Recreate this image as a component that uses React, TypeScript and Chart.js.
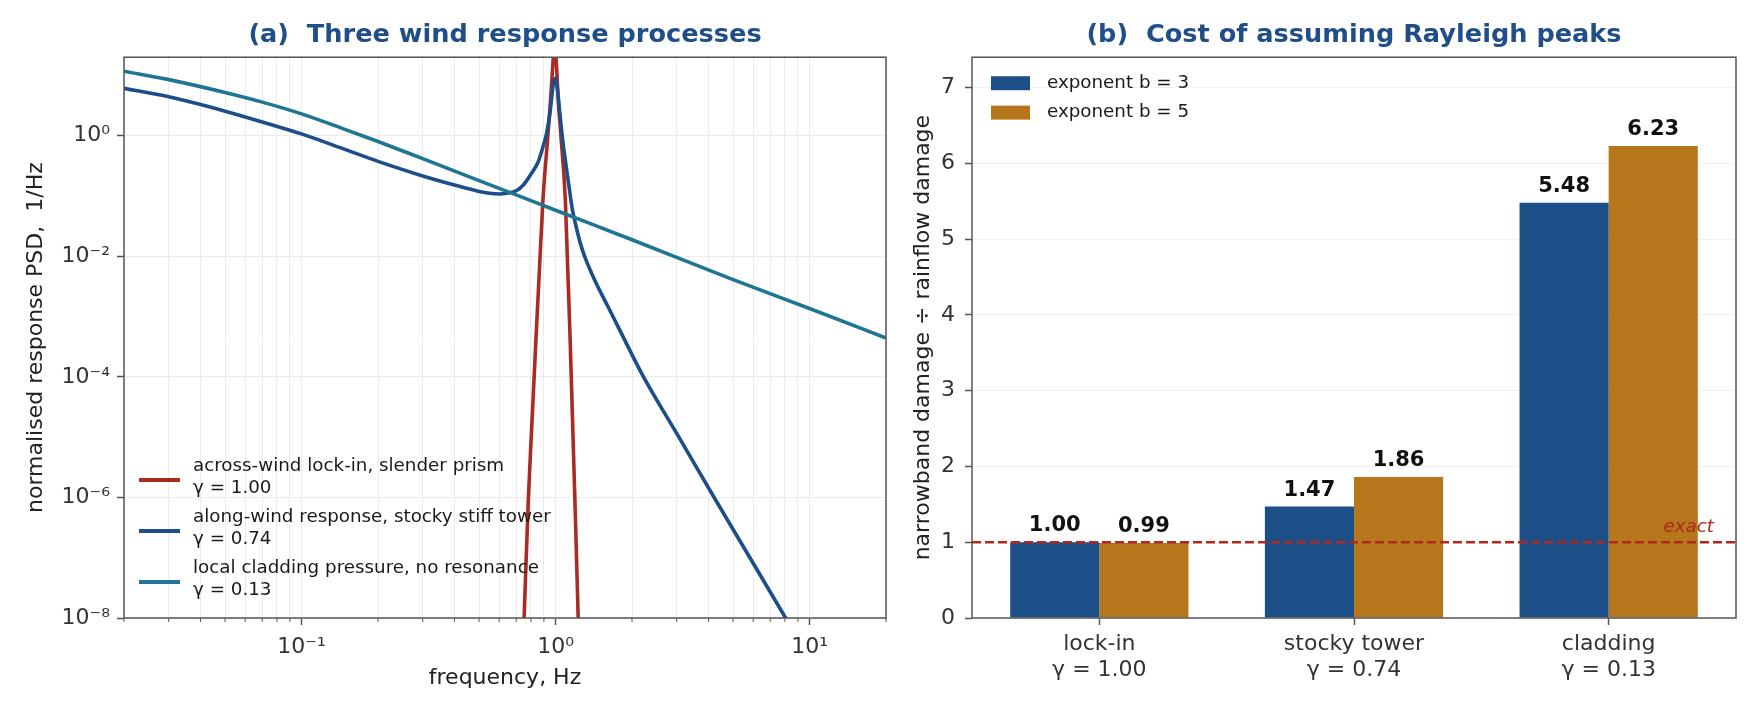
import { useEffect, useRef } from "react"
import { Chart, registerables } from "chart.js"

Chart.register(...registerables)
Chart.defaults.font.family = "'DejaVu Sans', sans-serif"

// ---- panel (a): normalised response PSD
const lockInFreq = [0.738, 0.752, 0.782, 0.81, 0.839, 0.865, 0.892, 0.933, 0.956, 0.98, 0.993, 1.005, 1.025, 1.05, 1.093, 1.115, 1.14, 1.165, 1.191, 1.228, 1.24]
const lockInPsd = [1e-9, 1e-8, 1e-6, 2.3e-5, 5e-4, 6.5e-3, 0.085, 1.0, 3.9, 20, 60, 20, 3.9, 1.0, 0.085, 7.5e-3, 5e-4, 2.3e-5, 1e-6, 1e-8, 1.5e-9]

const alongFreq = [0.02, 0.03, 0.05, 0.075, 0.1, 0.15, 0.2, 0.3, 0.4, 0.5, 0.55, 0.6, 0.65, 0.7, 0.75, 0.8, 0.855, 0.9, 0.922, 0.951, 0.965, 0.98, 0.995, 1.008, 1.018, 1.04, 1.062, 1.088, 1.121, 1.163, 1.19, 1.22, 1.26, 1.304, 1.427, 1.61, 1.788, 2.22, 3.0, 4.28, 6.0, 8.05, 9.0]
const alongPsd = [6.1, 4.4, 2.55, 1.55, 1.07, 0.58, 0.375, 0.215, 0.152, 0.119, 0.111, 0.108, 0.112, 0.122, 0.155, 0.23, 0.37, 0.74, 1.09, 2.4, 4.2, 7.2, 8.9, 7.5, 5.7, 2.33, 1.0, 0.446, 0.183, 0.062, 0.039, 0.025, 0.015, 9.8e-3, 4e-3, 1.45e-3, 6e-4, 1e-4, 1.15e-5, 8.9e-7, 8.1e-8, 1e-8, 4.5e-9]

const claddingFreq = [0.02, 0.03, 0.05, 0.07, 0.1, 0.15, 0.2, 0.3, 0.5, 0.7, 1.0, 2.0, 5.0, 10, 20]
const claddingPsd = [11.7, 8.5, 5.2, 3.6, 2.3, 1.25, 0.8, 0.415, 0.18, 0.104, 0.058, 0.0188, 4.1e-3, 1.36e-3, 4.4e-4]

const psdNames = ["across-wind lock-in, slender prism", "along-wind response, stocky stiff tower", "local cladding pressure, no resonance"]
const psdGammas = ["γ = 1.00", "γ = 0.74", "γ = 0.13"]
const psdColors = ["#aa2b22", "#1d4e89", "#1f7594"]

const freqTicks = [0.02, 0.03, 0.04, 0.05, 0.06, 0.07, 0.08, 0.09, 0.1, 0.2, 0.3, 0.4, 0.5, 0.6, 0.7, 0.8, 0.9, 1, 2, 3, 4, 5, 6, 7, 8, 9, 10, 20]
const freqMajor = [0.1, 1, 10]
const freqMajorLabels = ["10⁻¹", "10⁰", "10¹"]
const psdTicks = [1e-8, 1e-6, 1e-4, 1e-2, 1]
const psdTickLabels = ["10⁻⁸", "10⁻⁶", "10⁻⁴", "10⁻²", "10⁰"]

// ---- panel (b): damage ratio
const caseLabels = [["lock-in", "γ = 1.00"], ["stocky tower", "γ = 0.74"], ["cladding", "γ = 0.13"]]
const ratioB3 = [1.0, 1.47, 5.48]
const ratioB5 = [0.99, 1.86, 6.23]
const exponentNames = ["exponent b = 3", "exponent b = 5"]
const barColors = ["#1c4f88", "#b5761c"]

const TITLE_COLOR = "#1f4e89"
const TEXT = "#333333"

const framePlugin = {
  id: "frame",
  afterDraw(chart: any) {
    const { ctx, chartArea: a } = chart
    ctx.save()
    ctx.strokeStyle = "#555555"
    ctx.lineWidth = 1.5
    ctx.strokeRect(a.left, a.top, a.right - a.left, a.bottom - a.top)
    ctx.restore()
  },
}

const minorTickPlugin = {
  id: "minorTicks",
  afterDraw(chart: any) {
    const { ctx, chartArea: a, scales } = chart
    ctx.save()
    ctx.strokeStyle = "#555555"
    ctx.lineWidth = 1
    freqTicks.forEach((v) => {
      if (freqMajor.includes(v)) return
      const x = scales.x.getPixelForValue(v)
      ctx.beginPath()
      ctx.moveTo(x, a.bottom)
      ctx.lineTo(x, a.bottom + 4)
      ctx.stroke()
    })
    ctx.restore()
  },
}

const psdLegendPlugin = {
  id: "psdLegend",
  afterDatasetsDraw(chart: any) {
    const { ctx, chartArea: a } = chart
    ctx.save()
    chart.data.datasets.forEach((ds: any, i: number) => {
      const cy = a.bottom - 138 + i * 51
      ctx.strokeStyle = ds.borderColor
      ctx.lineWidth = 4
      ctx.beginPath()
      ctx.moveTo(a.left + 15, cy)
      ctx.lineTo(a.left + 56, cy)
      ctx.stroke()
      ctx.fillStyle = "#1a1a1a"
      ctx.font = "18.3px 'DejaVu Sans'"
      ctx.textAlign = "left"
      ctx.textBaseline = "middle"
      ctx.fillText(ds.label, a.left + 69, cy - 13.5)
      ctx.fillText(psdGammas[i], a.left + 69, cy + 7.8)
    })
    ctx.restore()
  },
}

const barExtrasPlugin = {
  id: "barExtras",
  afterDatasetsDraw(chart: any) {
    const { ctx, chartArea: a, scales } = chart
    ctx.save()
    // reference line at ratio = 1
    const y1 = scales.y.getPixelForValue(1)
    ctx.strokeStyle = "#b0281f"
    ctx.lineWidth = 2.5
    ctx.setLineDash([9, 4])
    ctx.beginPath()
    ctx.moveTo(a.left, y1)
    ctx.lineTo(a.right, y1)
    ctx.stroke()
    ctx.setLineDash([])
    ctx.fillStyle = "#b0281f"
    ctx.font = "italic 18.3px 'DejaVu Sans'"
    ctx.textAlign = "right"
    ctx.textBaseline = "middle"
    ctx.fillText("exact", a.right - 22, y1 - 15)

    // value labels
    ctx.fillStyle = "#111111"
    ctx.font = "bold 21px 'DejaVu Sans'"
    ctx.textAlign = "center"
    chart.data.datasets.forEach((ds: any, di: number) => {
      const meta = chart.getDatasetMeta(di)
      meta.data.forEach((el: any, i: number) => {
        ctx.fillText(Number(ds.data[i]).toFixed(2), el.x, el.y - 16.5)
      })
    })

    // legend
    chart.data.datasets.forEach((ds: any, di: number) => {
      const cy = a.top + 26 + di * 29.4
      ctx.fillStyle = ds.backgroundColor
      ctx.fillRect(a.left + 19, cy - 7, 39, 14)
      ctx.fillStyle = "#1a1a1a"
      ctx.font = "18.3px 'DejaVu Sans'"
      ctx.textAlign = "left"
      ctx.fillText(ds.label, a.left + 75, cy)
    })
    ctx.restore()
  },
}

function PsdPanel() {
  const chartRef = useRef<HTMLCanvasElement>(null)
  const chartInstance = useRef<Chart | null>(null)

  useEffect(() => {
    if (!chartRef.current) return
    if (chartInstance.current) chartInstance.current.destroy()
    const ctx = chartRef.current.getContext("2d")
    if (!ctx) return

    const series = [
      { f: lockInFreq, s: lockInPsd },
      { f: alongFreq, s: alongPsd },
      { f: claddingFreq, s: claddingPsd },
    ]

    chartInstance.current = new Chart(ctx, {
      type: "line",
      data: {
        datasets: series.map((d, i) => ({
          label: psdNames[i],
          data: d.f.map((f, j) => ({ x: f, y: d.s[j] })),
          borderColor: psdColors[i],
          backgroundColor: psdColors[i],
          borderWidth: 3.6,
          pointRadius: 0,
          fill: false,
          clip: 0,
          order: 3 - i,
          cubicInterpolationMode: "monotone",
        })) as any,
      },
      options: {
        animation: false,
        responsive: true,
        maintainAspectRatio: false,
        layout: { padding: { left: 0, right: 6, top: 0, bottom: 0 } },
        plugins: {
          legend: { display: false },
          tooltip: { enabled: false },
          title: {
            display: true,
            fullSize: false,
            text: "(a)  Three wind response processes",
            color: TITLE_COLOR,
            font: { size: 25.6, weight: "bold" },
            padding: { top: 19.5, bottom: 7 },
          },
        },
        scales: {
          x: {
            type: "logarithmic",
            min: 0.02,
            max: 20,
            afterBuildTicks: (scale: any) => {
              scale.ticks = freqTicks.map((v) => ({ value: v }))
            },
            afterFit: (scale: any) => {
              scale.height = 102
            },
            ticks: {
              autoSkip: false,
              maxRotation: 0,
              padding: 9,
              color: TEXT,
              font: { size: 22 },
              callback: (v: any) => {
                const k = freqMajor.indexOf(Number(v))
                return k >= 0 ? freqMajorLabels[k] : ""
              },
            },
            grid: {
              color: "#ebebeb",
              lineWidth: 1,
              tickLength: 7,
              tickWidth: 1.5,
              tickColor: (c: any) => (c.tick && freqMajor.includes(c.tick.value) ? "#555555" : "rgba(0,0,0,0)"),
            },
            border: { display: false },
            title: {
              display: true,
              text: "frequency, Hz",
              color: "#222222",
              font: { size: 22 },
              padding: { top: 0, bottom: 29 },
            },
          },
          y: {
            type: "logarithmic",
            min: 1e-8,
            max: 20,
            afterBuildTicks: (scale: any) => {
              scale.ticks = psdTicks.map((v) => ({ value: v }))
            },
            afterFit: (scale: any) => {
              scale.width = 124
            },
            ticks: {
              autoSkip: false,
              padding: 7,
              color: TEXT,
              font: { size: 22 },
              callback: (v: any) => {
                const k = psdTicks.indexOf(Number(v))
                return k >= 0 ? psdTickLabels[k] : ""
              },
            },
            grid: { color: "#ebebeb", lineWidth: 1, tickLength: 7, tickWidth: 1.5, tickColor: "#555555" },
            border: { display: false },
            title: {
              display: true,
              text: "normalised response PSD,  1/Hz",
              color: "#222222",
              font: { size: 22 },
              padding: { top: 23, bottom: 0 },
            },
          },
        },
      },
      plugins: [minorTickPlugin, psdLegendPlugin, framePlugin],
    })

    return () => {
      if (chartInstance.current) {
        chartInstance.current.destroy()
        chartInstance.current = null
      }
    }
  }, [])

  return <canvas ref={chartRef} />
}

function DamagePanel() {
  const chartRef = useRef<HTMLCanvasElement>(null)
  const chartInstance = useRef<Chart | null>(null)

  useEffect(() => {
    if (!chartRef.current) return
    if (chartInstance.current) chartInstance.current.destroy()
    const ctx = chartRef.current.getContext("2d")
    if (!ctx) return

    chartInstance.current = new Chart(ctx, {
      type: "bar",
      data: {
        labels: caseLabels as any,
        datasets: [ratioB3, ratioB5].map((vals, i) => ({
          label: exponentNames[i],
          data: vals,
          backgroundColor: barColors[i],
          borderWidth: 0,
          categoryPercentage: 0.7,
          barPercentage: 1,
        })),
      },
      options: {
        animation: false,
        responsive: true,
        maintainAspectRatio: false,
        layout: { padding: { left: 0, right: 24, top: 0, bottom: 0 } },
        plugins: {
          legend: { display: false },
          tooltip: { enabled: false },
          title: {
            display: true,
            fullSize: false,
            text: "(b)  Cost of assuming Rayleigh peaks",
            color: TITLE_COLOR,
            font: { size: 25.6, weight: "bold" },
            padding: { top: 19.5, bottom: 7 },
          },
        },
        scales: {
          x: {
            afterFit: (scale: any) => {
              scale.height = 102
            },
            ticks: {
              autoSkip: false,
              maxRotation: 0,
              padding: 7,
              color: TEXT,
              font: { size: 22, lineHeight: 1.15 },
            },
            grid: {
              offset: false,
              drawOnChartArea: false,
              tickLength: 7,
              tickWidth: 1.5,
              tickColor: "#555555",
            },
            border: { display: false },
          },
          y: {
            min: 0,
            max: 7.4,
            z: 1,
            afterFit: (scale: any) => {
              scale.width = 92
            },
            ticks: {
              stepSize: 1,
              includeBounds: false,
              padding: 10,
              color: TEXT,
              font: { size: 22 },
            },
            grid: {
              color: "rgba(225,225,225,0.45)",
              lineWidth: 1,
              tickLength: 7,
              tickWidth: 1.5,
              tickColor: "#555555",
            },
            border: { display: false },
            title: {
              display: true,
              text: "narrowband damage ÷ rainflow damage",
              color: "#222222",
              font: { size: 22 },
              padding: { top: 30, bottom: 0 },
            },
          },
        },
      },
      plugins: [barExtrasPlugin, framePlugin],
    })

    return () => {
      if (chartInstance.current) {
        chartInstance.current.destroy()
        chartInstance.current = null
      }
    }
  }, [])

  return <canvas ref={chartRef} />
}

export default function App() {
  return (
    <div style={{ position: "absolute", left: 0, top: 0, width: 1760, height: 720, background: "#ffffff" }}>
      <div style={{ position: "absolute", left: 0, top: 0, width: 895, height: 720 }}>
        <PsdPanel />
      </div>
      <div style={{ position: "absolute", left: 880, top: 0, width: 880, height: 720 }}>
        <DamagePanel />
      </div>
    </div>
  )
}
